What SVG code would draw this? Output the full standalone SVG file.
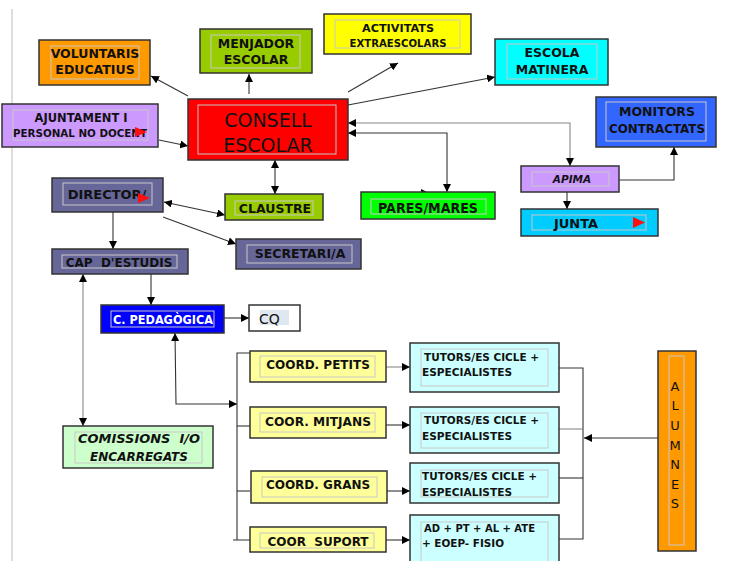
<svg xmlns="http://www.w3.org/2000/svg" width="729" height="561" viewBox="0 0 729 561">
<style>
.b{stroke:#333;stroke-width:1.5}
.f{fill:none;stroke:#c8c8c8;stroke-width:1}
.t{font-family:"DejaVu Sans",sans-serif;font-weight:bold;font-size:11.5px;fill:#111;text-anchor:middle}
.s{font-size:10.5px}
.l{text-anchor:start}
.c{fill:none;stroke:#333;stroke-width:1.1}
.g{fill:none;stroke:#888;stroke-width:1.1}
.tri{fill:#ff1010}
.al{font-weight:normal;font-size:13px}
</style>
<defs>
<marker id="a" viewBox="0 0 10 10" refX="10" refY="5" markerWidth="8" markerHeight="8" markerUnits="userSpaceOnUse" orient="auto-start-reverse">
<path d="M0,0 L10,5 L0,10 Z" fill="#000"/>
</marker>
</defs>
<rect width="729" height="561" fill="#fff"/>
<line x1="12" y1="9" x2="12" y2="561" stroke="#ddd" stroke-width="2"/>

<g id="connectors">
<line class="c" x1="188" y1="96" x2="151" y2="76" marker-end="url(#a)"/>
<line class="c" x1="249" y1="94" x2="249" y2="74" marker-end="url(#a)"/>
<line class="c" x1="348" y1="92" x2="398" y2="63" marker-end="url(#a)"/>
<line class="c" x1="348" y1="105" x2="495" y2="77" marker-end="url(#a)"/>
<line class="c" x1="159" y1="140" x2="188" y2="146" marker-end="url(#a)"/>
<polyline class="g" points="570,166 570,123 348,123" marker-start="url(#a)" marker-end="url(#a)"/>
<polyline class="c" points="447,192 447,133 348,133" marker-start="url(#a)" marker-end="url(#a)"/>
<line class="c" x1="420" y1="193" x2="429" y2="193" marker-end="url(#a)"/>
<line class="c" x1="275" y1="160" x2="275" y2="194" marker-start="url(#a)" marker-end="url(#a)"/>
<line class="c" x1="567" y1="180" x2="567" y2="209" marker-end="url(#a)"/>
<polyline class="c" points="619,180 674,180 674,147" marker-end="url(#a)"/>
<line class="c" x1="164" y1="202" x2="225" y2="215" marker-start="url(#a)" marker-end="url(#a)"/>
<line class="c" x1="163" y1="217" x2="236" y2="244" marker-end="url(#a)"/>
<line class="c" x1="113" y1="212" x2="113" y2="249" marker-end="url(#a)"/>
<line class="c" x1="151" y1="274" x2="151" y2="305" marker-end="url(#a)"/>
<line class="c" x1="224" y1="318" x2="249" y2="318" marker-end="url(#a)"/>
<line class="g" x1="83" y1="274" x2="83" y2="426" marker-start="url(#a)" marker-end="url(#a)"/>
<polyline class="c" points="175,333 176,404 237,404" marker-start="url(#a)" marker-end="url(#a)"/>
<polyline class="c" points="250,353 237,353 237,540 233,540 250,540"/>
<line class="c" x1="237" y1="426" x2="250" y2="426"/>
<line class="c" x1="237" y1="491" x2="250" y2="491"/>
<line class="g" x1="386" y1="367" x2="410" y2="367" marker-end="url(#a)"/>
<line class="c" x1="386" y1="425" x2="410" y2="425" marker-end="url(#a)"/>
<line class="c" x1="387" y1="491" x2="410" y2="491" marker-end="url(#a)"/>
<line class="c" x1="386" y1="540" x2="410" y2="540" marker-end="url(#a)"/>
<polyline class="c" points="559,368 583,368 583,539 559,539"/>
<line class="g" x1="559" y1="429" x2="583" y2="429"/>
<line class="c" x1="559" y1="478" x2="583" y2="478"/>
<line class="c" x1="658" y1="438" x2="584" y2="438" marker-end="url(#a)"/>
</g>

<g id="voluntaris">
<rect class="b" x="39" y="40" width="111" height="45" fill="#FF9900"/>
<rect class="f" x="51" y="46" width="88" height="33"/>
<text class="t" x="95" y="58" style="font-size:12.5px">VOLUNTARIS</text>
<text class="t" x="95" y="74" style="font-size:12.5px">EDUCATIUS</text>
</g>
<g id="menjador">
<rect class="b" x="200" y="29" width="112" height="44" fill="#99CC00"/>
<rect class="f" x="211" y="35" width="89" height="33"/>
<text class="t" x="256" y="48" style="font-size:12.5px">MENJADOR</text>
<text class="t" x="256" y="64" style="font-size:12.5px">ESCOLAR</text>
</g>
<g id="activitats">
<rect class="b" x="324" y="14" width="147" height="40" fill="#FFFF00"/>
<rect class="f" x="335" y="20" width="125" height="28"/>
<text class="t" x="398" y="32" style="font-size:10.5px" textLength="72" lengthAdjust="spacingAndGlyphs">ACTIVITATS</text>
<text class="t" x="398" y="47" style="font-size:10.5px" textLength="97" lengthAdjust="spacingAndGlyphs">EXTRAESCOLARS</text>
</g>
<g id="escola">
<rect class="b" x="495" y="39" width="113" height="46" fill="#00FFFF"/>
<rect class="f" x="507" y="44" width="90" height="35"/>
<text class="t" x="552" y="57" style="font-size:12.5px">ESCOLA</text>
<text class="t" x="552" y="74" style="font-size:12.5px">MATINERA</text>
</g>
<g id="ajuntament">
<rect class="b" x="2" y="104" width="156" height="43" fill="#CC99FF"/>
<rect class="f" x="13" y="110" width="135" height="30"/>
<text class="t" x="81" y="122" style="font-size:11.5px" textLength="93" lengthAdjust="spacingAndGlyphs">AJUNTAMENT I</text>
<text class="t" x="80" y="137" style="font-size:11px" textLength="134" lengthAdjust="spacingAndGlyphs">PERSONAL NO DOCENT</text>
<path class="tri" d="M135,127 L147,132 L135,137 Z"/>
</g>
<g id="consell">
<rect class="b" x="188" y="99" width="160" height="61" fill="#FF0000"/>
<rect class="f" x="198" y="105" width="138" height="49"/>
<text class="t" x="268" y="127" style="font-weight:normal;font-size:19px">CONSELL</text>
<text class="t" x="268" y="152" style="font-weight:normal;font-size:19px">ESCOLAR</text>
</g>
<g id="monitors">
<rect class="b" x="596" y="97" width="120" height="50" fill="#3366FF"/>
<rect class="f" x="606" y="102" width="100" height="39"/>
<text class="t" x="657" y="116" style="font-size:12.5px">MONITORS</text>
<text class="t" x="657" y="133" style="font-size:12.5px" textLength="96" lengthAdjust="spacingAndGlyphs">CONTRACTATS</text>
</g>
<g id="apima">
<rect class="b" x="521" y="166" width="98" height="26" fill="#CC99FF"/>
<rect class="f" x="532" y="172" width="77" height="14"/>
<text class="t" x="572" y="183" style="font-size:10.5px;font-style:italic">APIMA</text>
</g>
<g id="junta">
<rect class="b" x="521" y="209" width="137" height="27" fill="#00CCFF"/>
<rect class="f" x="532" y="215" width="114" height="15"/>
<text class="t" x="576" y="228" style="font-size:13px">JUNTA</text>
<path class="tri" d="M633,217 L645,222.5 L633,228 Z"/>
</g>
<g id="director">
<rect class="b" x="52" y="178" width="111" height="34" fill="#666699"/>
<rect class="f" x="63" y="183" width="89" height="22"/>
<text class="t" x="107" y="199" style="font-size:13px">DIRECTOR/</text>
<path class="tri" d="M138,193 L150,198 L138,203 Z"/>
</g>
<g id="claustre">
<rect class="b" x="225" y="194" width="98" height="26" fill="#99CC00"/>
<rect class="f" x="235" y="201" width="78" height="14"/>
<text class="t" x="275" y="213" style="font-size:12.5px">CLAUSTRE</text>
</g>
<g id="pares">
<rect class="b" x="361" y="192" width="134" height="27" fill="#00FF00"/>
<rect class="f" x="371" y="199" width="115" height="15"/>
<text class="t" x="428" y="213" style="font-size:13.5px" textLength="100" lengthAdjust="spacingAndGlyphs">PARES/MARES</text>
</g>
<g id="secretari">
<rect class="b" x="236" y="239" width="125" height="30" fill="#666699"/>
<rect class="f" x="247" y="245" width="105" height="18"/>
<text class="t" x="300" y="258" style="font-size:12.5px">SECRETARI/A</text>
</g>
<g id="cap">
<rect class="b" x="52" y="249" width="136" height="25" fill="#666699"/>
<rect class="f" x="62" y="255" width="115" height="13"/>
<text class="t" x="119" y="267" style="font-size:12px" xml:space="preserve">CAP  D'ESTUDIS</text>
</g>
<g id="cpedagogica">
<rect class="b" x="101" y="305" width="123" height="28" fill="#0000FF"/>
<rect class="f" x="111" y="311" width="103" height="16" stroke="#aab"/>
<text class="t" x="163" y="324" style="font-size:12px;fill:#fff" textLength="100" lengthAdjust="spacingAndGlyphs">C. PEDAGÒGICA</text>
</g>
<g id="cq">
<rect class="b" x="249" y="305" width="51" height="26" fill="#FFFFFF" stroke="#555"/>
<rect x="260" y="310" width="29" height="15" fill="#dfe7f0"/>
<text class="t l" x="259" y="324" style="font-size:14px;font-weight:normal">CQ</text>
</g>
<g id="coord-petits">
<rect class="b" x="250" y="351" width="136" height="31" fill="#FFFF99"/>
<rect class="f" x="260" y="356" width="115" height="21"/>
<text class="t" x="318" y="369" style="font-size:12px">COORD. PETITS</text>
</g>
<g id="coor-mitjans">
<rect class="b" x="250" y="407" width="136" height="31" fill="#FFFF99"/>
<rect class="f" x="260" y="413" width="115" height="19"/>
<text class="t" x="318" y="426" style="font-size:12px" textLength="106" lengthAdjust="spacingAndGlyphs">COOR. MITJANS</text>
</g>
<g id="coord-grans">
<rect class="b" x="251" y="471" width="136" height="32" fill="#FFFF99"/>
<rect class="f" x="262" y="477" width="115" height="20"/>
<text class="t" x="318" y="489" style="font-size:12px">COORD. GRANS</text>
</g>
<g id="coor-suport">
<rect class="b" x="250" y="527" width="136" height="25" fill="#FFFF99"/>
<rect class="f" x="260" y="533" width="114" height="15"/>
<text class="t" x="318" y="546" style="font-size:12px" xml:space="preserve">COOR  SUPORT</text>
</g>
<g id="tutors-1">
<rect class="b" x="410" y="343" width="149" height="49" fill="#CCFFFF"/>
<rect class="f" x="421" y="349" width="127" height="37"/>
<text class="t s l" x="424" y="361" textLength="115" lengthAdjust="spacingAndGlyphs">TUTORS/ES CICLE +</text>
<text class="t s l" x="422" y="376" textLength="90" lengthAdjust="spacingAndGlyphs">ESPECIALISTES</text>
</g>
<g id="tutors-2">
<rect class="b" x="410" y="407" width="149" height="46" fill="#CCFFFF"/>
<rect class="f" x="421" y="413" width="127" height="35"/>
<text class="t s l" x="424" y="424" textLength="115" lengthAdjust="spacingAndGlyphs">TUTORS/ES CICLE +</text>
<text class="t s l" x="422" y="440" textLength="90" lengthAdjust="spacingAndGlyphs">ESPECIALISTES</text>
</g>
<g id="tutors-3">
<rect class="b" x="410" y="463" width="149" height="40" fill="#CCFFFF"/>
<rect class="f" x="421" y="470" width="127" height="27"/>
<text class="t s l" x="422" y="480" textLength="115" lengthAdjust="spacingAndGlyphs">TUTORS/ES CICLE +</text>
<text class="t s l" x="422" y="496" textLength="90" lengthAdjust="spacingAndGlyphs">ESPECIALISTES</text>
</g>
<g id="suport-staff">
<rect class="b" x="410" y="515" width="149" height="48" fill="#CCFFFF"/>
<rect class="f" x="421" y="522" width="127" height="40"/>
<text class="t s l" x="424" y="532" textLength="111" lengthAdjust="spacingAndGlyphs">AD + PT + AL + ATE</text>
<text class="t s l" x="422" y="547" textLength="82" lengthAdjust="spacingAndGlyphs">+ EOEP- FISIO</text>
</g>
<g id="comissions">
<rect class="b" x="63" y="426" width="150" height="42" fill="#CCFFCC" stroke="#666"/>
<rect class="f" x="75" y="432" width="127" height="31"/>
<text class="t" x="139" y="443" style="font-size:12px;font-style:italic" textLength="122" lengthAdjust="spacingAndGlyphs" xml:space="preserve">COMISSIONS  I/O</text>
<text class="t" x="139" y="461" style="font-size:12px;font-style:italic">ENCARREGATS</text>
</g>
<g id="alumnes">
<rect class="b" x="658" y="351" width="38" height="200" fill="#FF9900" stroke="#555"/>
<rect class="f" x="669" y="356" width="15" height="189"/>
<text class="t al" x="675" y="391">A</text>
<text class="t al" x="675" y="410">L</text>
<text class="t al" x="675" y="430">U</text>
<text class="t al" x="675" y="450">M</text>
<text class="t al" x="675" y="469">N</text>
<text class="t al" x="675" y="489">E</text>
<text class="t al" x="675" y="508">S</text>
</g>
</svg>
